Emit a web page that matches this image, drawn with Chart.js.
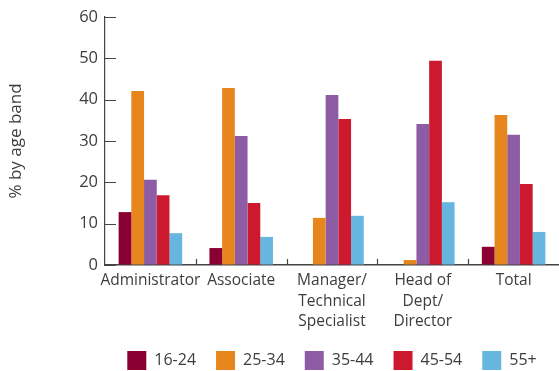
<!DOCTYPE html>
<html>
<head>
<meta charset="utf-8">
<script src="https://cdn.jsdelivr.net/npm/chart.js@4"></script>
<style>
    html, body { margin: 0; padding: 0; background: #fff; }
    #wrap { width: 559px; height: 371px; }
</style>
</head>
<body>
<div id="wrap"><canvas id="chart"></canvas></div>
<script>
const categories = [['Administrator'], ['Associate'], ['Manager/', 'Technical', 'Specialist'], ['Head of', 'Dept/', 'Director'], ['Total']];
const ageBands = ['16-24', '25-34', '35-44', '45-54', '55+'];
const band16to24 = [12.8, 4.1, 0, 0, 4.4];
const band25to34 = [42.1, 42.8, 11.4, 1.2, 36.3];
const band35to44 = [20.6, 31.2, 41.1, 34.1, 31.5];
const band45to54 = [16.9, 15.0, 35.3, 49.4, 19.6];
const band55plus = [7.7, 6.8, 11.9, 15.2, 8.0];
const bandColors = ['#8a0032', '#e8861e', '#8e5ba5', '#cc192e', '#67b6e0'];

Chart.defaults.font.family = '"Open Sans", sans-serif';
Chart.defaults.color = '#3d3d3d';

// short tick marks pointing into the plot + separators between categories
const innerTicks = {
    id: 'innerTicks',
    afterDatasetsDraw(chart) {
        const { ctx, chartArea, scales: { x, y } } = chart;
        ctx.save();
        ctx.strokeStyle = '#444';
        ctx.lineWidth = 1.2;
        ctx.beginPath();
        y.ticks.forEach(t => {
            const py = Math.round(y.getPixelForValue(t.value)) + 0.5;
            ctx.moveTo(chartArea.left, py);
            ctx.lineTo(chartArea.left + 11, py);
        });
        for (let i = 1; i < categories.length; i++) {
            const px = Math.round((x.getPixelForValue(i - 1) + x.getPixelForValue(i)) / 2) + 0.5;
            ctx.moveTo(px, chartArea.bottom);
            ctx.lineTo(px, chartArea.bottom - 6);
        }
        ctx.stroke();
        ctx.restore();
    }
};

const series = [band16to24, band25to34, band35to44, band45to54, band55plus];

new Chart(document.querySelector('#chart'), {
    type: 'bar',
    data: {
        labels: categories,
        datasets: series.map((values, i) => ({
            label: ageBands[i],
            data: values,
            backgroundColor: bandColors[i],
            borderWidth: 0,
            categoryPercentage: 0.7,
            barPercentage: 1,
        }))
    },
    options: {
        responsive: true,
        maintainAspectRatio: false,
        animation: false,
        layout: {
            padding: { top: 17, right: 0, bottom: -9, left: 0 }
        },
        scales: {
            x: {
                grid: { display: true, drawOnChartArea: false, drawTicks: false },
                border: { color: '#444', width: 1.5 },
                ticks: {
                    padding: 6,
                    maxRotation: 0,
                    autoSkip: false,
                    font: { size: 15.5, lineHeight: 1.3 }
                },
                afterFit(scale) { scale.height = 66; }
            },
            y: {
                min: 0,
                max: 60,
                grid: { display: true, drawOnChartArea: false, drawTicks: false },
                border: { color: '#444', width: 1.2 },
                ticks: {
                    stepSize: 10,
                    padding: 7,
                    font: { size: 16.5 }
                },
                title: {
                    display: true,
                    text: '% by age band',
                    padding: { top: 6, bottom: 0 },
                    font: { size: 17 }
                },
                afterFit(scale) { scale.width = 105; }
            }
        },
        plugins: {
            legend: {
                position: 'bottom',
                fullSize: false,
                labels: {
                    boxWidth: 19,
                    boxHeight: 19,
                    padding: 20,
                    color: '#3d3d3d',
                    font: { size: 16 }
                }
            },
            tooltip: { enabled: false }
        }
    },
    plugins: [innerTicks]
});
</script>
</body>
</html>
